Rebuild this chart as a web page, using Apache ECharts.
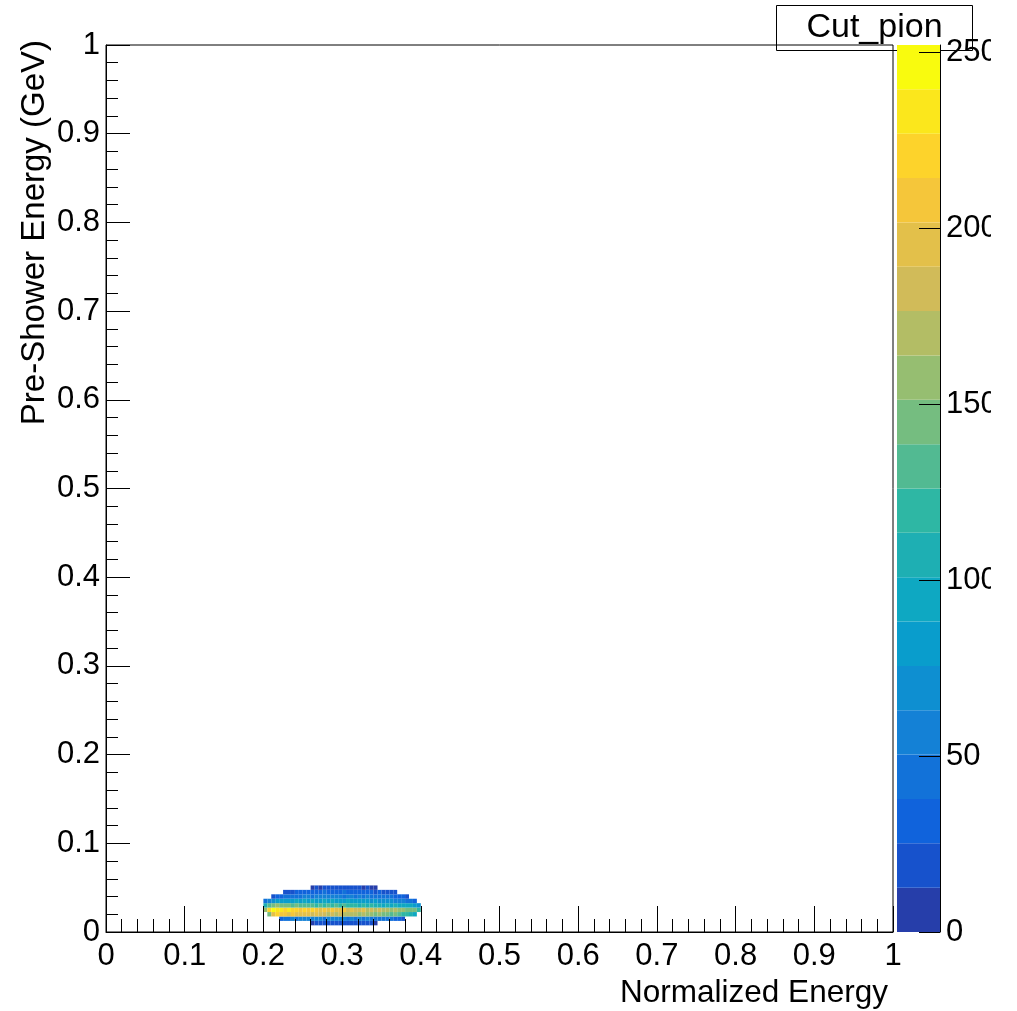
<!DOCTYPE html>
<html>
<head>
<meta charset="utf-8">
<script src="https://cdn.jsdelivr.net/npm/echarts@6/dist/echarts.min.js"></script>
<style>
html,body{margin:0;padding:0;background:#fff;}
#chart{width:991px;height:1011px;overflow:hidden;}
</style>
</head>
<body>
<div id="chart"></div>
<script>
// ---- data ----
const xTickLabels = ['0','0.1','0.2','0.3','0.4','0.5','0.6','0.7','0.8','0.9','1'];
const yTickLabels = ['0','0.1','0.2','0.3','0.4','0.5','0.6','0.7','0.8','0.9','1'];
const zTickLabels = ['0','50','100','150','200','250'];
const zMax = 252;
const nLevels = 20;
const xBinLow = 0.2;      // left edge of column 0
const xBinWidth = 0.005;
const yBinLow = 0.0075;   // bottom edge of row 0
const yBinWidth = 0.005;
// first occupied column of each row (rows bottom -> top)
const rowStartCol = [12, 4, 1, 0, 0, 0, 2, 5, 12];
const counts_r0 = [12, 18, 15, 22, 19, 24, 17, 21, 25, 20, 23, 18, 21, 16, 19, 14, 10];
const counts_r1 = [30, 42, 50, 55, 48, 58, 52, 60, 55, 62, 57, 50, 60, 54, 58, 52, 56, 49, 55, 50, 53, 47, 51, 45, 48, 42, 45, 38, 40, 34, 30, 25];
const counts_r2 = [150, 200, 215, 210, 205, 198, 208, 195, 200, 190, 196, 185, 192, 180, 188, 176, 184, 172, 180, 170, 176, 165, 172, 160, 168, 155, 162, 150, 156, 145, 150, 138, 142, 130, 125, 118, 105, 90];
const counts_r3 = [160, 215, 240, 236, 228, 222, 230, 218, 225, 212, 220, 205, 215, 208, 200, 212, 196, 205, 198, 190, 202, 186, 195, 188, 180, 192, 176, 185, 172, 180, 168, 175, 160, 168, 155, 160, 148, 150, 140, 120];
const counts_r4 = [110, 135, 148, 152, 145, 140, 150, 138, 142, 130, 136, 128, 134, 125, 132, 120, 128, 124, 130, 118, 126, 121, 115, 124, 112, 118, 110, 116, 105, 112, 100, 108, 98, 104, 95, 100, 90, 92, 85, 70];
const counts_r5 = [45, 60, 72, 78, 85, 80, 88, 84, 92, 86, 90, 82, 95, 88, 84, 91, 86, 93, 80, 87, 83, 89, 78, 85, 80, 76, 82, 73, 78, 70, 74, 66, 70, 62, 58, 52, 48, 40, 32];
const counts_r6 = [20, 26, 33, 38, 45, 42, 50, 47, 55, 52, 48, 58, 54, 60, 51, 57, 62, 55, 50, 58, 53, 49, 56, 47, 52, 45, 48, 42, 44, 38, 40, 34, 30, 26, 22];
const counts_r7 = [14, 18, 22, 27, 30, 26, 33, 29, 36, 31, 38, 34, 30, 37, 33, 40, 35, 31, 36, 29, 33, 28, 31, 25, 27, 22, 20, 17, 13];
const counts_r8 = [9, 14, 12, 18, 15, 20, 13, 17, 22, 16, 19, 14, 18, 12, 15, 10, 8];
const rowCounts = [counts_r0, counts_r1, counts_r2, counts_r3, counts_r4, counts_r5, counts_r6, counts_r7, counts_r8];

// ---- palette (ROOT kBird) ----
const birdR = [0.2082, 0.0592, 0.0780, 0.0232, 0.1802, 0.5301, 0.8186, 0.9956, 0.9764];
const birdG = [0.1664, 0.3599, 0.5041, 0.6419, 0.7178, 0.7492, 0.7328, 0.7862, 0.9832];
const birdB = [0.5293, 0.8684, 0.8385, 0.7914, 0.6425, 0.4662, 0.3499, 0.1968, 0.0539];
function bird(t){
  const s = Math.min(Math.max(t,0),1)*8;
  const k = Math.min(Math.floor(s),7), f = s-k;
  const c = a => Math.round(255*(a[k]+(a[k+1]-a[k])*f));
  return 'rgb('+c(birdR)+','+c(birdG)+','+c(birdB)+')';
}
const levelColors = [];
for (let i=0;i<nLevels;i++) levelColors.push(bird((i+1)/nLevels));
function colorFor(v){
  let i = Math.floor(v/(zMax/nLevels));
  if (i<0) i=0; if (i>nLevels-1) i=nLevels-1;
  return levelColors[i];
}

// ---- build table ----
const cells = [];
rowCounts.forEach((arr, r) => {
  arr.forEach((v, j) => {
    const c = rowStartCol[r] + j;
    cells.push([xBinLow + c*xBinWidth, yBinLow + r*yBinWidth, v]);
  });
});
const levelData = [];
for (let i=0;i<nLevels;i++) levelData.push([i*zMax/nLevels, (i+1)*zMax/nLevels, i]);

const FONT = 'Liberation Sans, Arial, Helvetica, sans-serif';
const chart = echarts.init(document.getElementById('chart'), null, {renderer:'canvas'});
const fmt = arr => (v => { const i = Math.round(v*10); return (Math.abs(v*10-i)<1e-6 && arr[i]!==undefined) ? arr[i] : ''; });
const zfmt = v => { const i = Math.round(v/50); return (Math.abs(v/50-i)<1e-6 && zTickLabels[i]!==undefined) ? zTickLabels[i] : ''; };

chart.setOption({
  animation:false,
  backgroundColor:'#fff',
  grid:[
    {left:106, top:45, width:787, height:887, show:true, borderColor:'#000', borderWidth:1, backgroundColor:'transparent', z:5, outerBoundsMode:'none', containLabel:false},
    {left:897, top:45, width:43, height:887, show:false, outerBoundsMode:'none', containLabel:false}
  ],
  xAxis:[
    {gridIndex:0, type:'value', min:0, max:1, interval:0.1, z:10,
     axisLine:{show:true, onZero:false, lineStyle:{color:'#000', width:1}},
     axisTick:{show:true, inside:true, length:26, lineStyle:{color:'#000', width:1}},
     minorTick:{show:true, splitNumber:5, length:13, lineStyle:{color:'#000', width:1}},
     splitLine:{show:false}, minorSplitLine:{show:false},
     axisLabel:{color:'#000', fontFamily:FONT, fontSize:31, margin:9, formatter:fmt(xTickLabels), showMinLabel:true, showMaxLabel:true, hideOverlap:false},
     name:'Normalized Energy', nameLocation:'middle', nameGap:36,
     nameTextStyle:{color:'#000', fontFamily:FONT, fontSize:31.5, align:'center', verticalAlign:'top', padding:[0,0,0,509]}
    },
    {gridIndex:1, type:'value', min:0, max:1, show:false}
  ],
  yAxis:[
    {gridIndex:0, type:'value', min:0, max:1, interval:0.1, z:10,
     axisLine:{show:true, onZero:false, lineStyle:{color:'#000', width:1}},
     axisTick:{show:true, inside:true, length:24, lineStyle:{color:'#000', width:1}},
     minorTick:{show:true, splitNumber:5, length:12, lineStyle:{color:'#000', width:1}},
     splitLine:{show:false}, minorSplitLine:{show:false},
     axisLabel:{color:'#000', fontFamily:FONT, fontSize:31, margin:6, formatter:fmt(yTickLabels), showMinLabel:true, showMaxLabel:true, hideOverlap:false},
     name:'Pre-Shower Energy (GeV)', nameLocation:'end', nameGap:5, nameRotate:90,
     nameTextStyle:{color:'#000', fontFamily:FONT, fontSize:33, align:'right', verticalAlign:'bottom', padding:[0,0,55,0]}
    },
    {gridIndex:1, type:'value', min:0, max:zMax, interval:50, position:'right', z:10,
     axisLine:{show:true, onZero:false, lineStyle:{color:'#000', width:1}},
     axisTick:{show:true, inside:true, length:21, lineStyle:{color:'#000', width:1}},
     splitLine:{show:false},
     axisLabel:{color:'#000', fontFamily:FONT, fontSize:31, margin:6, formatter:zfmt, showMaxLabel:false, hideOverlap:false}
    }
  ],
  series:[
    {type:'custom', xAxisIndex:0, yAxisIndex:0, z:2, data:cells,
     renderItem:(params, api) => {
       const x0 = api.value(0), y0 = api.value(1), v = api.value(2);
       const p1 = api.coord([x0, y0 + yBinWidth]);
       const p2 = api.coord([x0 + xBinWidth, y0]);
       return {type:'rect', shape:{x:p1[0], y:p1[1], width:p2[0]-p1[0], height:p2[1]-p1[1]},
               style:{fill:colorFor(v), stroke:null}};
     }},
    {type:'custom', xAxisIndex:1, yAxisIndex:1, z:2, data:levelData,
     renderItem:(params, api) => {
       const p1 = api.coord([0, api.value(1)]);
       const p2 = api.coord([1, api.value(0)]);
       return {type:'rect', shape:{x:p1[0], y:p1[1], width:p2[0]-p1[0], height:p2[1]-p1[1]},
               style:{fill:levelColors[api.value(2)], stroke:null}};
     }}
  ],
  graphic:[
    {type:'group', left:776, top:5, z:100, children:[
      {type:'rect', shape:{x:0, y:0, width:196, height:45}, style:{fill:'#fff', stroke:'#000', lineWidth:1}},
      {type:'text', x:98, y:22, style:{text:'Cut_pion', fontFamily:FONT, fontSize:34, fill:'#000', align:'center', verticalAlign:'middle'}}
    ]}
  ]
});
</script>
</body>
</html>
